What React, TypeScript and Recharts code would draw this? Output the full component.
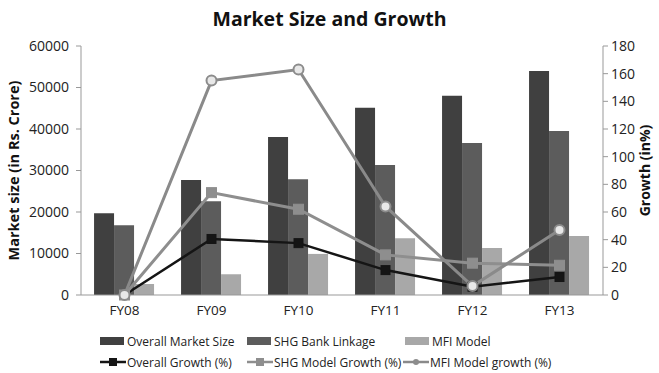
import React from 'react';
import { ComposedChart, Bar, Line, XAxis, YAxis, Legend, Label } from 'recharts';

const categories = ['FY08', 'FY09', 'FY10', 'FY11', 'FY12', 'FY13'];
const overallMarket = [19700, 27700, 38100, 45100, 48000, 54000];
const shgBank = [16800, 22600, 27900, 31300, 36600, 39500];
const mfiModel = [2650, 5000, 9900, 13700, 11300, 14200];
const overallGrowth = [0, 40.5, 37.5, 18, 6, 13];
const shgGrowth = [0, 74, 62, 29, 23, 21.5];
const mfiGrowth = [0, 155, 163, 64, 6.5, 47];
const leftTicks = [0, 10000, 20000, 30000, 40000, 50000, 60000];
const rightTicks = [0, 20, 40, 60, 80, 100, 120, 140, 160, 180];

const data = categories.map((c, i) => ({
  name: c,
  overall: overallMarket[i],
  shg: shgBank[i],
  mfi: mfiModel[i],
  og: overallGrowth[i],
  sg: shgGrowth[i],
  mg: mfiGrowth[i],
}));

const FONT = '"Open Sans", "Liberation Sans", sans-serif';

const SquareDot = (color: string, size: number) => (props: any) => {
  const { cx, cy, index } = props;
  if (cx == null || cy == null) return <g key={index} />;
  return <rect key={index} x={cx - size / 2} y={cy - size / 2} width={size} height={size} fill={color} stroke={color} />;
};
const CircleDot = (props: any) => {
  const { cx, cy, index } = props;
  if (cx == null || cy == null) return <g key={index} />;
  return <circle key={index} cx={cx} cy={cy} r={5} fill="#e8e8e8" stroke="#8c8c8c" strokeWidth={2} />;
};

const legendLayout: Record<string, { left: number; top: number }> = {
  overall: { left: 100, top: 13 },
  shg: { left: 247, top: 13 },
  mfi: { left: 405, top: 13 },
  og: { left: 100, top: 34 },
  sg: { left: 247, top: 34 },
  mg: { left: 403, top: 34 },
};

const renderLegend = (props: any) => {
  const { payload } = props;
  return (
    <div style={{ position: 'relative', width: 659, height: 53, fontFamily: FONT, fontSize: 12, color: '#222' }}>
      {payload.map((p: any) => {
        const key = p.dataKey as string;
        const pos = legendLayout[key];
        if (!pos) return null;
        const isBar = key === 'overall' || key === 'shg' || key === 'mfi';
        return (
          <div key={key} style={{ position: 'absolute', left: pos.left, top: pos.top, display: 'flex', alignItems: 'center', height: 16, whiteSpace: 'nowrap' }}>
            {isBar ? (
              <span style={{ display: 'inline-block', width: 24, height: 8, background: p.color, marginRight: 3 }} />
            ) : (
              <svg width={26} height={12} style={{ marginRight: 1 }}>
                <line x1={0} y1={6} x2={26} y2={6} stroke={p.color} strokeWidth={2.5} />
                {key === 'mg' ? (
                  <circle cx={13} cy={6} r={3} fill="#8c8c8c" />
                ) : (
                  <rect x={9} y={2} width={8} height={8} fill={p.color} />
                )}
              </svg>
            )}
            <span>{p.value}</span>
          </div>
        );
      })}
    </div>
  );
};

export default function App() {
  return (
    <div style={{ position: 'absolute', left: 0, top: 0, width: 659, height: 373, background: '#fff' }}>
      <div style={{ position: 'absolute', left: 0, top: 5, width: 659, textAlign: 'center', fontFamily: FONT, fontWeight: 700, fontSize: 19.5, color: '#111', zIndex: 2 }}>
        Market Size and Growth
      </div>
      <ComposedChart
        width={659}
        height={373}
        data={data}
        margin={{ top: 46, right: 0, left: 0, bottom: 0 }}
        barGap={0}
        barCategoryGap="15%"
      >
        <XAxis
          dataKey="name"
          height={25}
          tick={{ fontSize: 13.5, fill: '#222', fontFamily: FONT }}
          axisLine={{ stroke: '#999' }}
          tickLine={false}
          tickMargin={4}
        />
        <YAxis
          yAxisId="left"
          width={81}
          domain={[0, 60000]}
          ticks={leftTicks}
          interval={0}
          tick={{ fontSize: 14, fill: '#222', fontFamily: FONT }}
          axisLine={{ stroke: '#999' }}
          tickLine={{ stroke: '#999' }}
          tickSize={5}
          tickMargin={7}
        >
          <Label
            value="Market size (in Rs. Crore)"
            angle={-90}
            position="insideLeft"
            offset={14}
            style={{ textAnchor: 'middle', fontWeight: 700, fontSize: 14.5, fill: '#111', fontFamily: FONT }}
          />
        </YAxis>
        <YAxis
          yAxisId="right"
          orientation="right"
          width={56}
          domain={[0, 180]}
          ticks={rightTicks}
          interval={0}
          tick={{ fontSize: 14, fill: '#222', fontFamily: FONT }}
          axisLine={{ stroke: '#999' }}
          tickLine={{ stroke: '#999' }}
          tickSize={5}
          tickMargin={3}
        >
          <Label
            value="Growth (in%)"
            angle={-90}
            position="insideRight"
            offset={14}
            style={{ textAnchor: 'middle', fontWeight: 700, fontSize: 14, fill: '#111', fontFamily: FONT }}
          />
        </YAxis>
        <Legend verticalAlign="bottom" height={53} content={renderLegend} />
        <Bar yAxisId="left" dataKey="overall" name="Overall Market Size" fill="#404040" isAnimationActive={false} />
        <Bar yAxisId="left" dataKey="shg" name="SHG Bank Linkage" fill="#5c5c5c" isAnimationActive={false} />
        <Bar yAxisId="left" dataKey="mfi" name="MFI Model" fill="#a8a8a8" isAnimationActive={false} />
        <Line yAxisId="right" dataKey="og" name="Overall Growth (%)" stroke="#151515" strokeWidth={2.5} dot={SquareDot('#151515', 9)} isAnimationActive={false} />
        <Line yAxisId="right" dataKey="sg" name="SHG Model Growth (%)" stroke="#8e8e8e" strokeWidth={3} dot={SquareDot('#8e8e8e', 10)} isAnimationActive={false} />
        <Line yAxisId="right" dataKey="mg" name="MFI Model growth (%)" stroke="#8a8a8a" strokeWidth={3} dot={CircleDot} isAnimationActive={false} />
      </ComposedChart>
    </div>
  );
}
